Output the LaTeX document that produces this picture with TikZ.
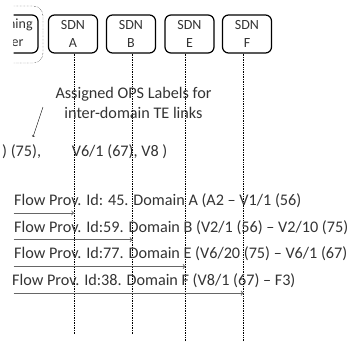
\documentclass[tikz,border=0pt]{standalone}
\usepackage{fontspec}
\setmainfont{Carlito}
\usepackage{xcolor}
\usepackage{tikz}
\usetikzlibrary{calc}

\begin{document}
\begin{tikzpicture}[x=1bp, y=-1bp,
		sdn/.style={draw, rounded corners=6bp, line width=1.2bp, minimum width=49bp, minimum height=38bp, align=center, inner sep=0pt, text=black!80, font=\fontsize{14bp}{18bp}\selectfont},
		lifeline/.style={densely dotted, line width=0.7bp},
		flow/.style={-to, line width=0.9bp, draw=black!60},
		lbl/.style={text=black!80, inner sep=0pt, font=\fontsize{16.2bp}{20bp}\selectfont}]
		\def\by{34};
		\def\bot{335};
		\def\lx{13.5};
	
		\useasboundingbox (0,0) rectangle (354,342);
		\begin{scope}
			\clip (\lx,0) rectangle (354,342);
			
			\draw[densely dotted, rounded corners=10bp] (-60,6) rectangle (43,63);
			\node[sdn, minimum width=80bp] (pm) at (-2,\by) {Provisioning\\Manager};
			
			\node[sdn] (sdnA) at (73,\by) {SDN\\A};
			\node[sdn] (sdnB) at (131,\by) {SDN\\B};
			\node[sdn] (sdnE) at (189.5,\by) {SDN\\E};
			\node[sdn] (sdnF) at (247,\by) {SDN\\F};
			
			\coordinate (endA) at (74,\bot);
			\coordinate (endB) at (132.5,\bot);
			\coordinate (endE) at (185.5,342);
			\coordinate (endF) at (243.5,342);
			\foreach \d in {A,B,E,F}
				\draw[lifeline] (sdn\d.south -| end\d) -- (end\d);
			
			\node[lbl, align=center] (ops) at (133.5,103) {Assigned OPS Labels for\\inter-domain TE links};
			\coordinate (tail) at (43,107);
			\coordinate (tip) at (33,137);
			\draw[-to, thin] (tail) -- (tip);
			
			\node[lbl, anchor=west] (flow1) at (14,200.5) {Flow Prov. Id: 45. Domain A (A2 – V1/1 (56)};
			\node[lbl, anchor=west] (flow2) at (14,227.2) {Flow Prov. Id:59. Domain B (V2/1 (56) – V2/10 (75)};
			\node[lbl, anchor=west] (flow3) at (14,254) {Flow Prov. Id:77. Domain E (V6/20 (75) – V6/1 (67)};
			\node[lbl, anchor=west] (flow4) at (12,280.7) {Flow Prov. Id:38. Domain F (V8/1 (67) – F3)};
			
			\coordinate (s1) at (\lx,213);
			\coordinate (s2) at (\lx,239.7);
			\coordinate (s3) at (\lx,266.5);
			\coordinate (s4) at (\lx,293.2);
			\begin{scope}[flow]
				\draw (s1) -- (s1 -| endA);
				\draw (s2) -- (s2 -| endB);
				\draw (s3) -- (s3 -| endE);
				\draw (s4) -- (s4 -| endF);
			\end{scope}
		\end{scope}
		
		\node[lbl, anchor=west] (ero) at (2,152) {) (75),\hspace{1.9em}V6/1 (67), V8 )};
	\end{tikzpicture}
\end{document}
